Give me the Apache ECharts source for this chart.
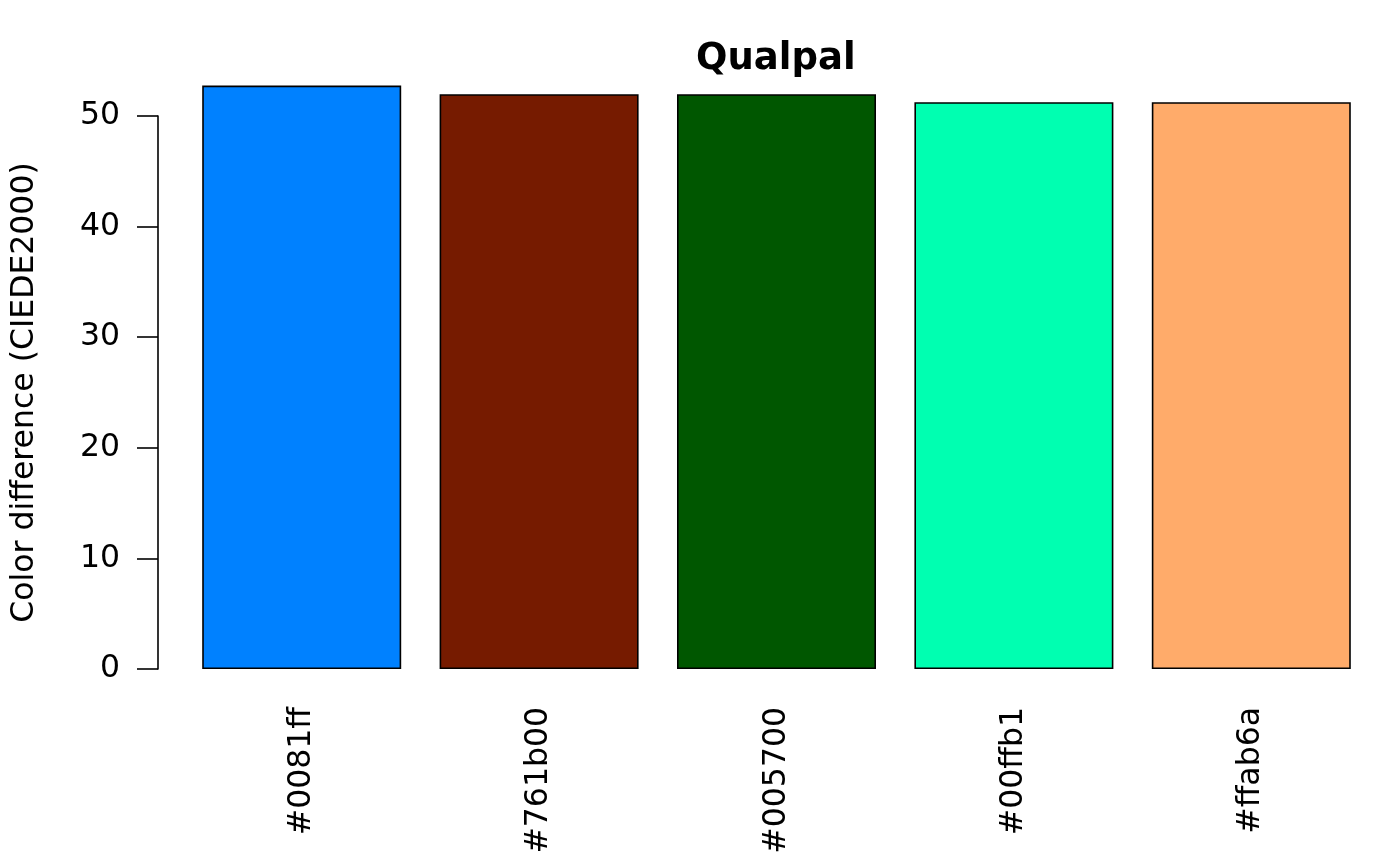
<!DOCTYPE html>
<html>
<head>
<meta charset="utf-8">
<title>Qualpal</title>
<script src="https://cdn.jsdelivr.net/npm/echarts@6/dist/echarts.min.js"></script>
<style>
  html, body { margin: 0; padding: 0; background: #fff; }
  #main { width: 1400px; height: 865px; }
</style>
</head>
<body>
<div id="main"></div>
<script>
// palette colours (also used as category labels)
var colors = ['#0081ff', '#761b00', '#005700', '#00ffb1', '#ffab6a'];
// min colour difference (CIEDE2000)
var diffs = [52.75, 51.97, 51.97, 51.25, 51.25];
var yTicks = [0, 10, 20, 30, 40, 50];

var font = 'DejaVu Sans';
var fs = 31.5;

var myChart = echarts.init(document.getElementById('main'));

var option = {
    backgroundColor: '#ffffff',
    animation: false,
    title: {
        text: 'Qualpal',
        left: 696,
        top: 41,
        padding: 0,
        textStyle: {
            fontFamily: font,
            fontSize: 37,
            fontWeight: 'bold',
            color: '#000'
        }
    },
    grid: {
        left: 183,
        right: 30,
        top: 116,
        bottom: 196,
        containLabel: false
    },
    xAxis: {
        type: 'category',
        data: colors,
        axisLine: { show: false },
        axisTick: { show: false },
        axisLabel: {
            rotate: 90,
            margin: 38,
            interval: 0,
            fontFamily: font,
            fontSize: fs,
            color: '#000'
        }
    },
    yAxis: {
        type: 'value',
        min: yTicks[0],
        max: yTicks[yTicks.length - 1],
        interval: 10,
        offset: 25,
        name: 'Color difference (CIEDE2000)',
        nameLocation: 'middle',
        nameGap: 117,
        nameTextStyle: {
            fontFamily: font,
            fontSize: fs,
            color: '#000'
        },
        axisLine: { show: true, lineStyle: { color: '#000', width: 1.6 } },
        axisTick: { show: true, length: 21, lineStyle: { color: '#000', width: 1.6 } },
        axisLabel: {
            margin: 38,
            fontFamily: font,
            fontSize: fs,
            color: '#000'
        },
        splitLine: { show: false }
    },
    series: [
        {
            type: 'bar',
            barWidth: 199,
            clip: false,
            data: diffs.map(function (v, i) {
                return {
                    value: v,
                    itemStyle: { color: colors[i] }
                };
            }),
            itemStyle: {
                borderColor: '#000',
                borderWidth: 1.6
            }
        }
    ]
};

myChart.setOption(option);
window.onresize = myChart.resize;
</script>
</body>
</html>
